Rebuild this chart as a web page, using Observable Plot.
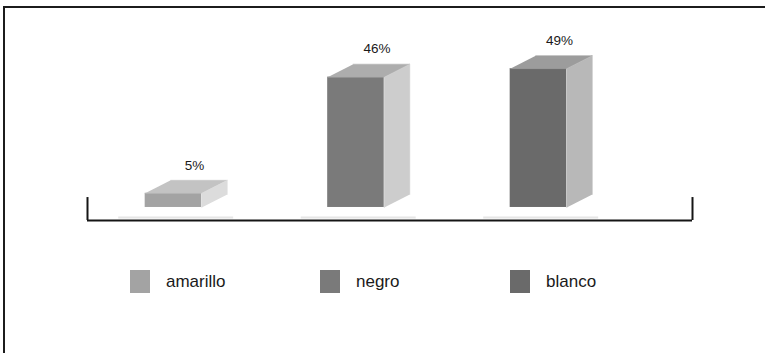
<!DOCTYPE html>
<html>
<head>
<meta charset="utf-8">
<script src="https://cdn.jsdelivr.net/npm/d3@7"></script>
<script src="https://cdn.jsdelivr.net/npm/@observablehq/plot@0.6"></script>
<style>
  html, body { margin: 0; padding: 0; background: #fff; }
  #chart { position: relative; width: 765px; height: 353px; overflow: hidden; background: #fff;
           font-family: "Liberation Sans", Arial, sans-serif; }
  #chart svg { position: absolute; left: 0; top: 0; }
  #border { position: absolute; left: 3px; top: 6px; right: -10px; bottom: -10px;
            border-left: 2px solid #1c1c1c; border-top: 2px solid #1c1c1c; z-index: 2; pointer-events: none; }
  #legend { position: absolute; left: 130px; top: 270px; display: flex; }
  .item { display: flex; align-items: center; width: 190px; }
  .swatch { width: 20px; height: 23px; margin-right: 16px; }
  .item span { font-size: 17px; color: #1a1a1a; }
</style>
</head>
<body>
<div id="chart"><div id="border"></div><div id="legend"></div></div>
<script>
// Categories and their shares (percent)
const categories = ["amarillo", "negro", "blanco"];
const values = [5, 46, 49];

// Grey shades for the three visible faces of each 3D bar
const frontShades = ["#a3a3a3", "#7a7a7a", "#6a6a6a"];
const topShades = ["#c3c3c3", "#adadad", "#9c9c9c"];
const sideShades = ["#dcdcdc", "#cdcdcd", "#b8b8b8"];

// Bar geometry, in data units (x: category steps, y: percent)
const halfWidth = 0.155;
const depthX = 0.14;
const depthY = 4.6;
const xDomain = [-0.471, 2.844];

const bars = categories.map((name, i) => ({
  name, i, value: values[i], front: frontShades[i]
}));

// Top and side faces as closed polygons
const faces = bars.flatMap(b => {
  const x0 = b.i - halfWidth, x1 = b.i + halfWidth, v = b.value;
  const top = [[x0, v], [x1, v], [x1 + depthX, v + depthY], [x0 + depthX, v + depthY]]
    .map(([x, y]) => ({key: b.name + "-top", x, y, fill: topShades[b.i]}));
  const side = [[x1, 0], [x1, v], [x1 + depthX, v + depthY], [x1 + depthX, depthY]]
    .map(([x, y]) => ({key: b.name + "-side", x, y, fill: sideShades[b.i]}));
  return [...top, ...side];
});

const plot = Plot.plot({
  width: 765,
  height: 240,
  marginLeft: 87,
  marginRight: 73,
  marginTop: 37,
  marginBottom: 20,
  x: {domain: xDomain, axis: null},
  y: {domain: [-depthY, 60], axis: null},
  color: {type: "identity"},
  style: {fontFamily: "'Liberation Sans', Arial, sans-serif", background: "transparent", color: "#1a1a1a"},
  marks: [
    // faint floor shading under each bar
    Plot.ruleY(bars, {x1: d => d.i - 0.3, x2: d => d.i + 0.33, y: -depthY, dy: -3, stroke: "#e6e6e6", strokeWidth: 2}),
    // front faces
    Plot.rect(bars, {x1: d => d.i - halfWidth, x2: d => d.i + halfWidth, y1: 0, y2: "value", fill: "front"}),
    // top and side faces
    Plot.line(faces, {x: "x", y: "y", z: "key", fill: "fill", stroke: "fill", strokeWidth: 0.5}),
    // baseline bracket
    Plot.ruleY([-depthY], {stroke: "#151515", strokeWidth: 2}),
    Plot.ruleX(xDomain, {y1: -depthY, y2: 3.5, stroke: "#151515", strokeWidth: 2}),
    // value labels
    Plot.text(bars, {x: "i", y: "value", text: d => d.value + "%", dx: 21, dy: -28, fontSize: 13.5, fill: "#1a1a1a"})
  ]
});

const chart = document.getElementById("chart");
chart.insertBefore(plot, chart.firstChild);

// Legend
const legend = document.getElementById("legend");
categories.forEach((name, i) => {
  const item = document.createElement("div");
  item.className = "item";
  const sw = document.createElement("div");
  sw.className = "swatch";
  sw.style.background = frontShades[i];
  const label = document.createElement("span");
  label.textContent = name;
  item.append(sw, label);
  legend.append(item);
});
</script>
</body>
</html>
